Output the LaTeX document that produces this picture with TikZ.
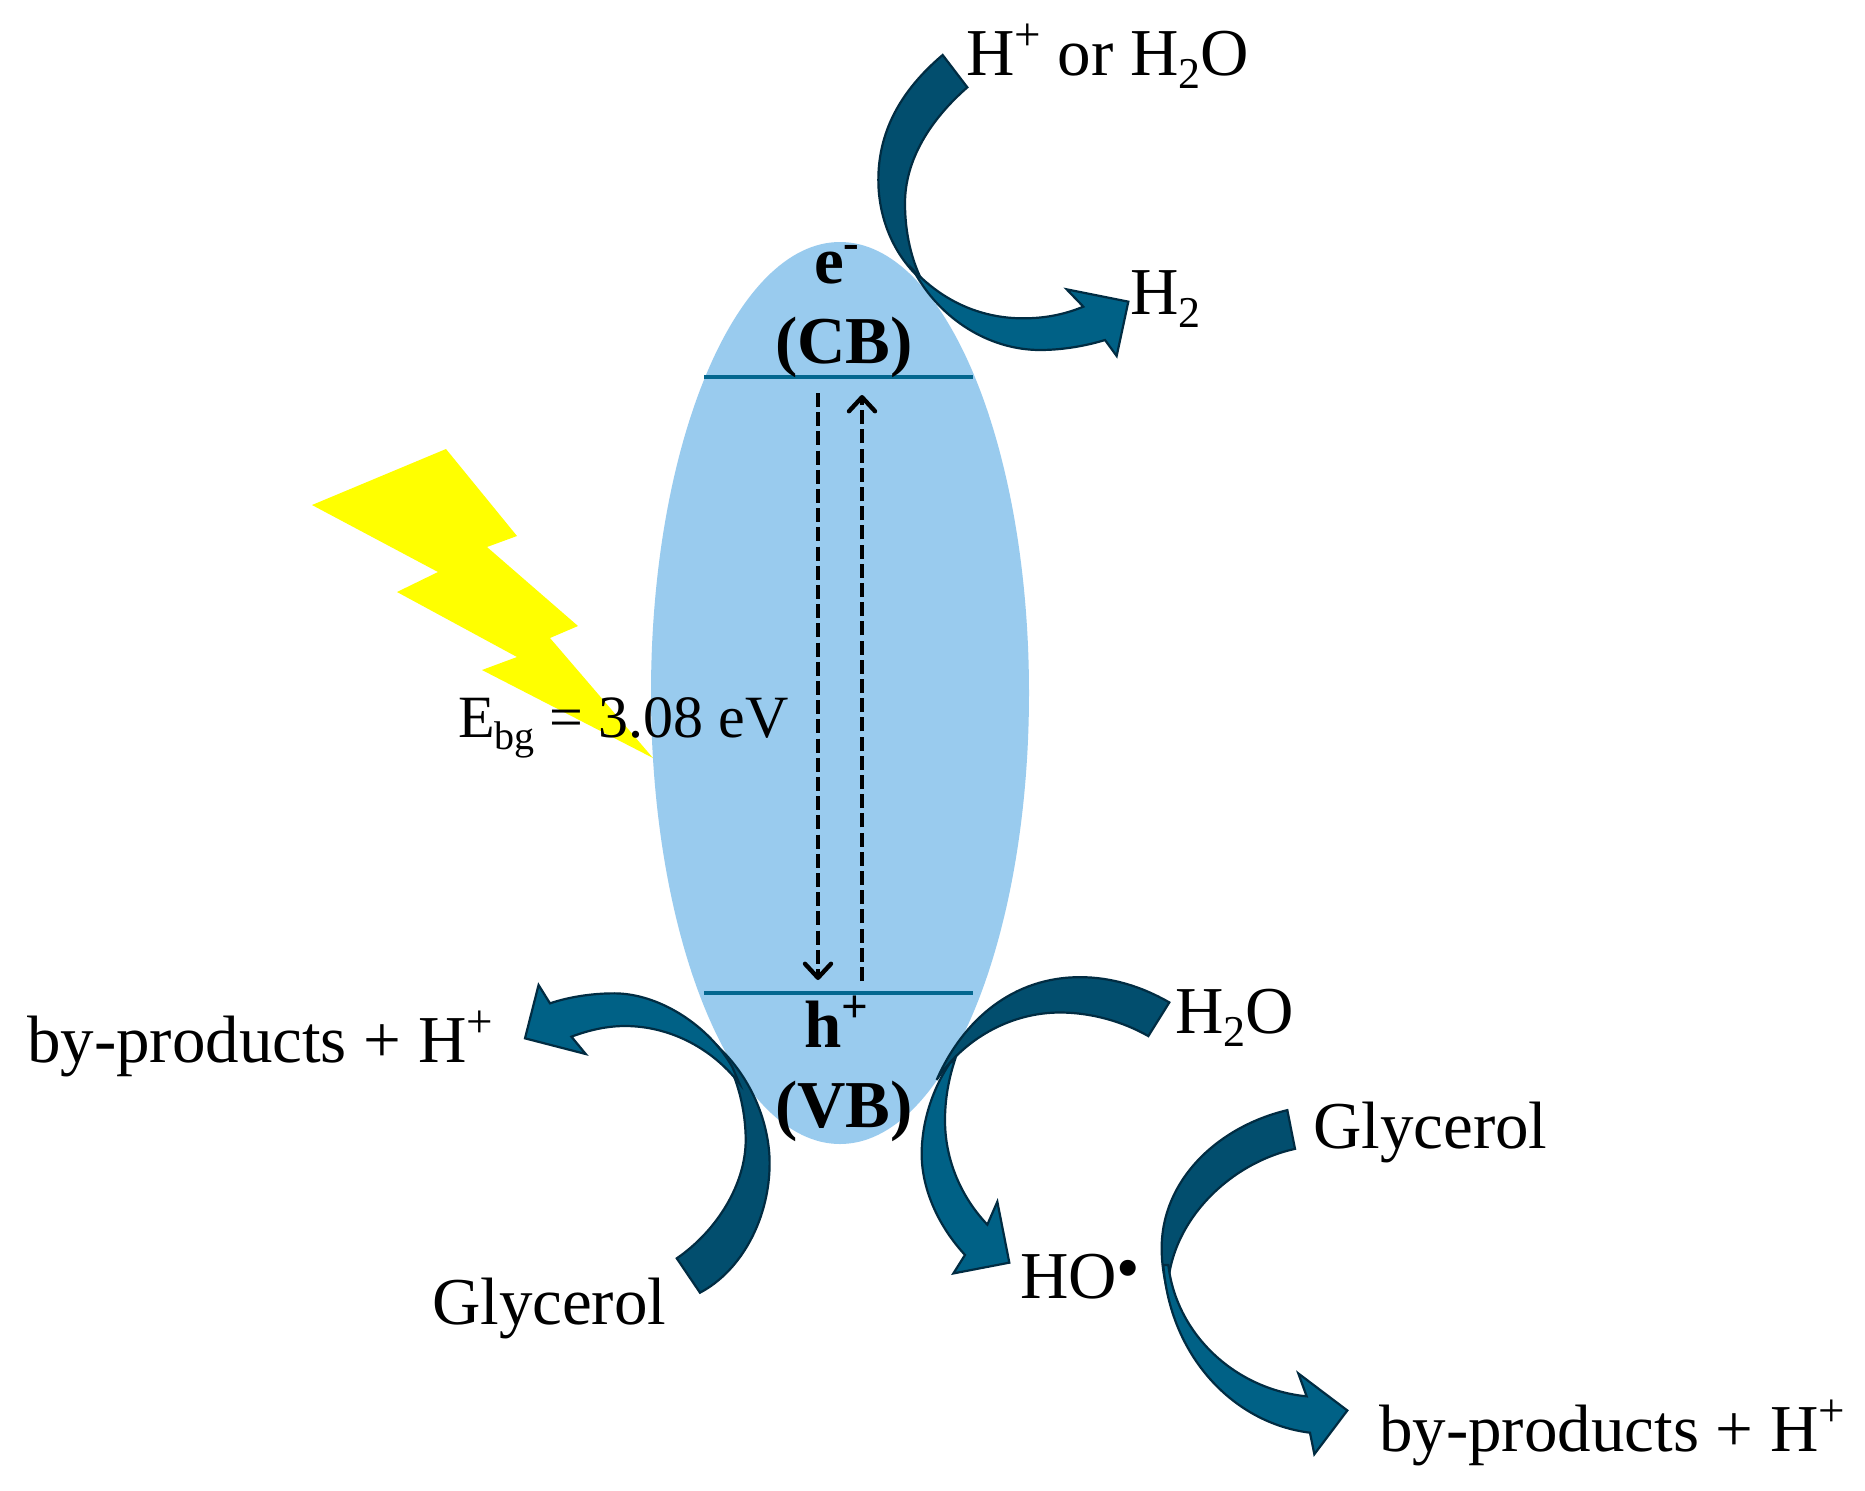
\documentclass[tikz,border=0pt]{standalone}
\usepackage{fontspec}
\setmainfont{Liberation Serif}
\usetikzlibrary{arrows.meta}
\definecolor{tailblue}{HTML}{024E6E}
\definecolor{headblue}{HTML}{006186}
\definecolor{edgeblue}{HTML}{012C42}
\definecolor{bandblue}{HTML}{99CBEE}
\definecolor{levelblue}{HTML}{03678F}
\definecolor{boltyellow}{RGB}{255,255,0}
\newcommand\upx[1]{\raisebox{0.36em}{\fontsize{23.5}{23.5}\selectfont #1}}
\newcommand\dnx[1]{\raisebox{-0.2em}{\fontsize{22}{22}\selectfont #1}}
\tikzset{
  tailpart/.style={fill=tailblue,draw=edgeblue,line width=1.1pt,line join=miter},
  headpart/.style={fill=headblue,draw=edgeblue,line width=1.1pt,line join=miter},
  lab/.style={anchor=base west,inner sep=0pt,outer sep=0pt,font=\fontsize{33.5}{38}\selectfont,text=black},
  blab/.style={lab,font=\fontsize{33.5}{38}\selectfont\bfseries},
  level/.style={draw=levelblue,line width=2pt},
  transition/.style={draw=black,line width=2.2pt,dash pattern=on 7pt off 2.6pt,-{Straight Barb[length=7pt,width=13pt,line width=2.2pt,round]}}
}
\begin{document}
\begin{tikzpicture}[x=0.5pt,y=-0.5pt]
\useasboundingbox (0,0) rectangle (1865,1490);
\fill[white] (0,0) rectangle (1865,1490);
% lightning
\fill[boltyellow] (446,449) -- (517,536) -- (487,547) -- (578,626) -- (550,638) -- (653,758) -- (482,670) -- (517,657) -- (397,592) -- (438,572) -- (312,505) -- cycle;
% band gap body
\fill[bandblue] (840,693) ellipse [x radius=189,y radius=451];
\coordinate (cbL) at (704,377); \coordinate (cbR) at (973,377);
\coordinate (vbL) at (704,993); \coordinate (vbR) at (973,993);
\draw[level] (cbL) -- (cbR);
\draw[level] (vbL) -- (vbR);
\coordinate (dnTop) at (818,393); \coordinate (dnEnd) at (818,980);
\coordinate (upBot) at (862,981); \coordinate (upEnd) at (862,395);
\draw[transition] (dnTop) -- (dnEnd);
\draw[transition] (upBot) -- (upEnd);
% arrow top
\begin{scope}[shift={(850,0)},xscale=1/3,yscale=1/3]
\draw[tailpart] (278,165) .. controls (130,290) and (85,420) .. (85,540) .. controls (85,660) and (135,770) .. (215,840) .. controls (185,780) and (165,700) .. (165,610) .. controls (165,480) and (240,360) .. (352,262) -- cycle;
\draw[headpart] (190,810) .. controls (270,960) and (420,1050) .. (570,1050) .. controls (640,1050) and (710,1037) .. (765,1020) -- (800,1068) -- (835,905) -- (650,868) -- (700,920) .. controls (640,945) and (580,955) .. (520,955) .. controls (400,955) and (290,910) .. (200,820) -- cycle;
\end{scope}
% arrow left
\begin{scope}[shift={(500,950)},xscale=1/2.8,yscale=1/3]
\draw[tailpart] (560,1028) .. controls (680,960) and (755,800) .. (755,640) .. controls (755,520) and (705,390) .. (620,300) .. controls (665,380) and (688,480) .. (688,570) .. controls (688,700) and (610,840) .. (495,925) -- cycle;
\draw[headpart] (650,350) .. controls (580,220) and (440,130) .. (320,130) .. controls (260,130) and (195,140) .. (140,160) -- (108,105) -- (70,265) -- (240,312) -- (200,260) .. controls (250,240) and (300,228) .. (350,228) .. controls (470,228) and (590,290) .. (670,400) -- cycle;
\end{scope}
% arrow H2O
\begin{scope}[shift={(900,962)},xscale=1/3,yscale=1/2.97]
\draw[tailpart] (808,120) .. controls (720,70) and (630,45) .. (540,45) .. controls (340,45) and (190,170) .. (110,350) .. controls (190,230) and (330,150) .. (480,150) .. controls (570,150) and (665,175) .. (745,220) -- cycle;
\draw[headpart] (150,300) .. controls (95,380) and (65,480) .. (65,570) .. controls (65,680) and (120,790) .. (195,870) -- (160,925) -- (328,893) -- (292,712) -- (262,780) .. controls (185,700) and (135,590) .. (135,470) .. controls (135,410) and (145,350) .. (165,290) -- cycle;
\end{scope}
% arrow Glycerol right
\begin{scope}[shift={(900,962)},xscale=1/3,yscale=1/2.97]
\draw[tailpart] (1162,440) .. controls (950,490) and (785,650) .. (785,850) .. controls (785,890) and (790,930) .. (803,980) .. controls (805,780) and (980,600) .. (1185,555) -- cycle;
\draw[headpart] (790,900) .. controls (810,1170) and (1000,1370) .. (1230,1398) -- (1243,1462) -- (1342,1332) -- (1195,1222) -- (1220,1290) .. controls (1010,1270) and (830,1110) .. (805,900) -- cycle;
\end{scope}
% labels
\node[lab] (hplus) at (966,75) {H\upx{+} or H\dnx{2}O};
\node[lab] (htwo) at (1130,314) {H\dnx{2}};
\node[blab] (e) at (814,283) {e\upx{-}};
\node[blab] (cb) at (775,363) {(CB)};
\node[blab] (h) at (804,1047) {h\upx{+}};
\node[blab] (vb) at (775,1127) {(VB)};
\node[lab,font=\fontsize{30}{36}\selectfont] (ebg) at (458,737) {E\raisebox{-0.2em}{\fontsize{20}{20}\selectfont bg} = 3.08 eV};
\node[lab] (byl) at (27,1062) {by-products + H\upx{+}};
\node[lab] (gll) at (432,1324) {Glycerol};
\node[lab] (water) at (1175,1033) {H\dnx{2}O};
\node[lab] (glr) at (1313,1148) {Glycerol};
\node[lab] (ho) at (1020,1298) {HO\raisebox{4pt}{•}};
\node[lab] (byr) at (1379,1451) {by-products + H\upx{+}};
\end{tikzpicture}
\end{document}
